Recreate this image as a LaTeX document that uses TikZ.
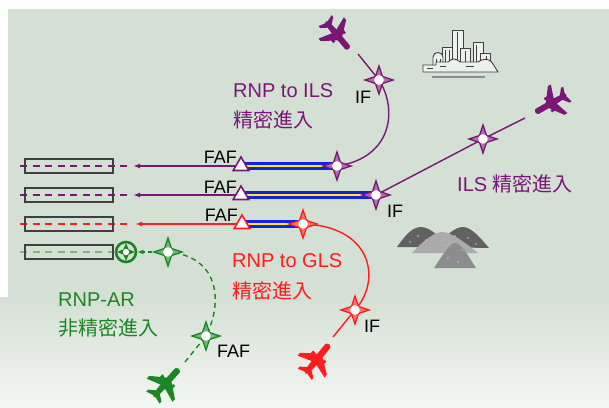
\documentclass[tikz,border=0pt]{standalone}
\usepackage{fontspec}
\setmainfont{Liberation Sans}
\newfontfamily\jp{Noto Sans CJK JP}
\usetikzlibrary{arrows.meta, shapes.geometric, backgrounds}

\definecolor{bgc}{RGB}{213,224,212}
\definecolor{bgl}{RGB}{243,246,242}
\definecolor{ils}{RGB}{122,22,118}
\definecolor{gls}{RGB}{255,28,28}
\definecolor{ar}{RGB}{28,134,36}
\definecolor{arl}{RGB}{125,185,125}
\definecolor{rwblue}{RGB}{20,30,235}

\begin{document}
\begin{tikzpicture}[x=1pt, y=-1pt,
    wp/.style={star, star points=4, star point ratio=2.8, minimum size=28pt, inner sep=0pt, draw=#1, fill=#1!62!white, line width=1.3pt},
    faf/.style={regular polygon, regular polygon sides=3, minimum size=18pt, inner sep=0pt, draw=#1, fill=white, line width=1.6pt},
    runway/.style={rectangle, draw=black!75, line width=1.1pt, minimum width=88pt, minimum height=14pt, inner sep=0pt},
    rwdash/.style={line width=1.8pt, dash pattern=on 7pt off 5.5pt},
    route/.style={line width=1.4pt},
    gs/.style={draw=rwblue, double=yellow, line width=3pt, double distance=1.8pt},
    lbl/.style={inner sep=0pt, font=\fontsize{20}{24}\selectfont},
    fix/.style={inner sep=0pt, font=\fontsize{18}{22}\selectfont},
    plane/.pic={
        \fill (17,0) .. controls (16,3) .. (12,3) -- (3,3) -- (-7,16.5) -- (-10.5,16.5) -- (-6,3)
            -- (-13,2.6) -- (-17.5,8.5) -- (-20,8.5) -- (-18,1.5) -- (-19,0) -- (-18,-1.5) -- (-20,-8.5)
            -- (-17.5,-8.5) -- (-13,-2.6) -- (-6,-3) -- (-10.5,-16.5) -- (-7,-16.5) -- (3,-3)
            -- (12,-3) .. controls (16,-3) .. cycle;
        \fill (-3,5.5) rectangle (2.5,8.2) (-3,-5.5) rectangle (2.5,-8.2);
    }
]
\useasboundingbox (0,0) rectangle (609,407);

% backdrop
\begin{scope}[on background layer]
    \fill[bgc] (8,9) rectangle (609,300);
    \shade[top color=bgc, bottom color=bgl] (0,297) rectangle (609,407);
\end{scope}

% runways
\foreach \i/\y/\c in {1/166/ils, 2/195/ils, 3/224/gls} {
    \draw[rwdash, \c] (20,\y) -- (127,\y);
    \node[runway] (rw\i) at (69,\y) {};
}
\draw[rwdash, arl, line width=1.4pt] (20,252) -- (112,252);
\node[runway] (rw4) at (69,252) {};

% waypoints
\node[wp=ils] (w0) at (379,80) {};
\node[wp=ils] (w1) at (337,166) {};
\node[wp=ils] (w2) at (376,195) {};
\node[wp=ils] (wi) at (483,139) {};
\node[wp=gls] (w3) at (303,224) {};
\node[wp=gls] (wr) at (355,310) {};
\node[wp=ar] (g1) at (168,252) {};
\node[wp=ar] (g2) at (206,336) {};
\foreach \n in {w0,w1,w2,wi,w3,wr,g1,g2}
    \fill[white] (\n) circle (4.8pt);

% threshold mark
\node[circle, draw=ar, line width=2.6pt, minimum size=20pt, inner sep=0pt] (thr) at (126,252) {};
\node[star, star points=4, star point ratio=2.4, minimum size=18pt, inner sep=0pt, fill=ar] at (thr) {};
\fill[white] (thr) circle (3.2pt);

% final approach fixes
\node[faf=ils] (f1) at (241,166) {};
\node[faf=ils] (f2) at (241,195) {};
\node[faf=gls] (f3) at (242,224) {};

\coordinate (e1) at (133,166);
\coordinate (e2) at (133,195);
\coordinate (e3) at (135,224);
\draw[route, ils, -{Latex[length=7pt, width=5pt]}] (f1) -- (e1);
\draw[route, ils, -{Latex[length=7pt, width=5pt]}] (f2) -- (e2);
\draw[route, gls, -{Latex[length=7pt, width=5pt]}] (f3) -- (e3);
\draw[route, ar, dash pattern=on 4pt off 3pt, -{Latex[length=6pt, width=5pt]}] (g1) -- (thr);

% routes from the aircraft
\coordinate (p0) at (358,54);
\coordinate (p1) at (525,118);
\coordinate (p2) at (333,337);
\coordinate (p3) at (185,362);
\begin{scope}[on background layer]
    \draw[gs] (f1.center) -- (w1.center);
    \draw[gs] (f2.center) -- (w2.center);
    \draw[gs] (f3.center) -- (w3.center);
    \draw[route, ils] (p0) -- (w0.center) .. controls (398,110) and (392,158) .. (w1.center);
    \draw[route, ils] (p1) -- (wi.center) -- (w2.center);
    \draw[route, gls] (p2) -- (wr.center) .. controls (382,280) and (372,226) .. (w3.center);
    \draw[route, ar, dash pattern=on 5pt off 4pt] (p3) -- (g2.center) .. controls (224,300) and (218,256) .. (g1.center);
\end{scope}

% aircraft
\pic[color=ils, rotate=-50] at (338,36) {plane};
\pic[color=ils, rotate=210] at (550,104) {plane};
\pic[color=gls, rotate=51, scale=1.05] at (318,358) {plane};
\pic[color=ar, rotate=48, scale=1.05] at (167,382) {plane};

% city
\begin{scope}[draw=black!75, fill=bgc!45!white, line width=0.9pt]
    \filldraw (473,42) rectangle (483,68);
    \filldraw (480,53) rectangle (490,68);
    \filldraw (452,30) rectangle (463,68);
    \draw (457.5,32) -- (457.5,66);
    \filldraw (442,47) rectangle (452,68);
    \draw (445,50) -- (445,66) (449,50) -- (449,66);
    \filldraw (460,48) rectangle (470,68);
    \draw (465,51) -- (465,66) (476,45) -- (476,66) (486,56) -- (486,66);
    \filldraw (433,68) -- (433,57) .. controls (433,51) and (443,51) .. (443,57) -- (443,68) -- cycle;
    \draw (436,59) -- (436,66) (440,59) -- (440,66);
    \filldraw (423,72) -- (423,65) -- (436,65) -- (436,62) -- (448,62) .. controls (452,58) and (456,58) .. (460,62)
        -- (478,62) .. controls (484,58) and (490,58) .. (493,64) -- (498,72) -- cycle;
    \draw (427,68) -- (433,68) (440,66) -- (446,66) (466,66) -- (474,66);
    \draw[line width=2pt, black!45] (432,77) -- (485,77);
\end{scope}

% hills
\fill[black!62] (397,247) .. controls (406,234) and (413,227) .. (421,227) .. controls (430,227) and (441,238) .. (450,247) -- cycle;
\fill[black!62] (436,247) .. controls (446,235) and (455,227) .. (463,227) .. controls (472,227) and (482,240) .. (489,248) -- cycle;
\fill[black!33] (412,253) .. controls (422,242) and (434,232) .. (442,232) .. controls (452,232) and (468,245) .. (478,253) -- cycle;
\fill[black!45] (434,268) .. controls (442,256) and (450,243) .. (455,243) .. controls (461,243) and (469,257) .. (476,268) -- cycle;
\foreach \x/\y in {410/242, 418/236, 426/240, 455/236, 468/238, 476/244, 430/248, 446/246, 462/250, 448/258, 458/262, 443/240}
    \fill[black!25] (\x,\y) circle (0.9pt);

% labels
\node[lbl, ils, anchor=base west] (tils1) at (233,97.5) {RNP to ILS};
\node[lbl, ils, anchor=base west] (tils2) at (233,127) {\jp 精密進入};
\node[lbl, ils, anchor=base west] (tils3) at (457,191.5) {ILS {\jp 精密進入}};
\node[lbl, gls, anchor=base west] (tgls1) at (232,267.5) {RNP to GLS};
\node[lbl, gls, anchor=base west] (tgls2) at (232,298) {\jp 精密進入};
\node[lbl, ar, anchor=base west] (tar1) at (58,306.5) {RNP-AR};
\node[lbl, ar, anchor=base west] (tar2) at (58,335) {\jp 非精密進入};

\node[fix, anchor=base east] (faf1) at (237,163) {FAF};
\node[fix, anchor=base east] (faf2) at (237,193) {FAF};
\node[fix, anchor=base east] (faf3) at (238,221) {FAF};
\node[fix, anchor=base west] (faf4) at (217,357) {FAF};
\node[fix, anchor=base west] (if1) at (355,103) {IF};
\node[fix, anchor=base west] (if2) at (387,217) {IF};
\node[fix, anchor=base west] (if3) at (364,332) {IF};

\end{tikzpicture}
\end{document}
